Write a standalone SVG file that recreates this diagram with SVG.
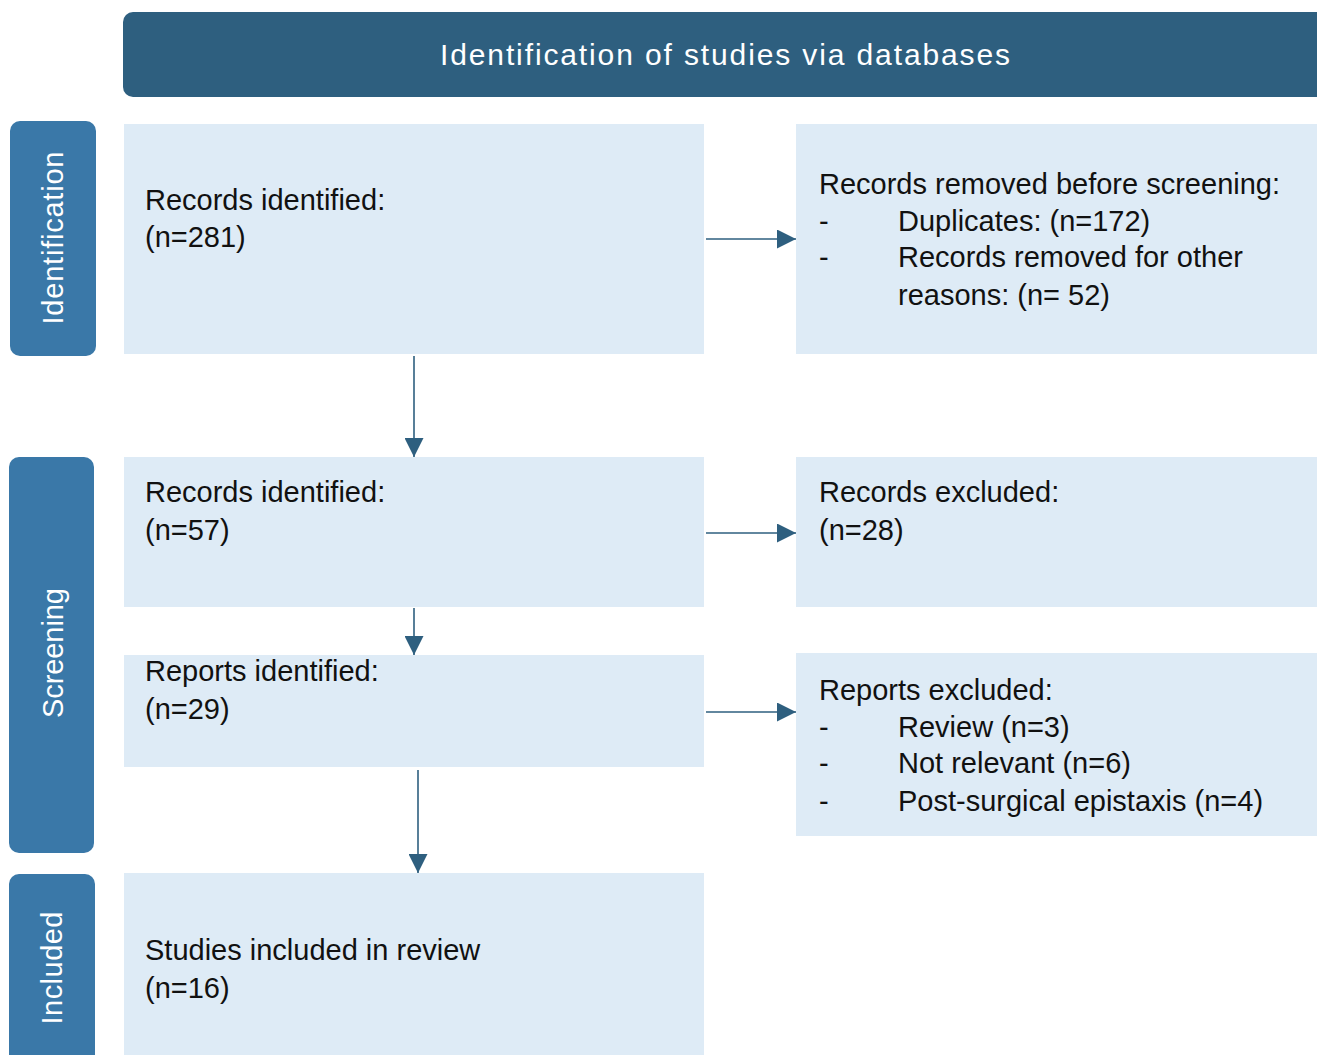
<svg xmlns="http://www.w3.org/2000/svg" width="1317" height="1055" viewBox="0 0 1317 1055">
<defs>
<style>
.box{fill:#deebf6;}
.side{fill:#3a78a8;}
.t{font-family:"Liberation Sans",Arial,sans-serif;font-size:29px;fill:#111111;}
.st{font-family:"Liberation Sans",Arial,sans-serif;font-size:29px;fill:#ffffff;text-anchor:middle;}
.hd{font-family:"Liberation Sans",Arial,sans-serif;font-size:30px;fill:#ffffff;text-anchor:middle;}
.c{stroke:#2e5f7f;stroke-width:1.6;fill:none;}
</style>
<marker id="ah" viewBox="0 0 10 10" refX="10" refY="5" markerWidth="19" markerHeight="19" markerUnits="userSpaceOnUse" orient="auto">
<path d="M0,0 L10,5 L0,10 z" fill="#2e5f7f"/>
</marker>
</defs>
<rect width="1317" height="1055" fill="#ffffff"/>
<g id="header">
<rect x="123" y="12" width="1214" height="85" rx="10" fill="#2e5f7f"/>
<text class="hd" x="725" y="65" textLength="570" lengthAdjust="spacing">Identification of studies via databases</text>
</g>
<g id="lane-identification">
<rect class="side" x="10" y="121" width="86" height="235" rx="10"/>
<text class="st" transform="translate(63,238) rotate(-90)" textLength="173" lengthAdjust="spacing">Identification</text>
</g>
<g id="lane-screening">
<rect class="side" x="9" y="457" width="85" height="396" rx="10"/>
<text class="st" transform="translate(63,653) rotate(-90)" textLength="130" lengthAdjust="spacing">Screening</text>
</g>
<g id="lane-included">
<rect class="side" x="9" y="874" width="86" height="200" rx="10"/>
<text class="st" transform="translate(62,968) rotate(-90)" textLength="113" lengthAdjust="spacing">Included</text>
</g>
<g id="n-records-identified">
<rect class="box" x="124" y="124" width="580" height="230"/>
<text class="t" x="145" y="210">Records identified:</text>
<text class="t" x="145" y="247">(n=281)</text>
</g>
<g id="n-removed">
<rect class="box" x="796" y="124" width="530" height="230"/>
<text class="t" x="819" y="194">Records removed before screening:</text>
<text class="t" x="819" y="231">-</text>
<text class="t" x="898" y="231">Duplicates: (n=172)</text>
<text class="t" x="819" y="267">-</text>
<text class="t" x="898" y="267">Records removed for other</text>
<text class="t" x="898" y="305">reasons: (n= 52)</text>
</g>
<g id="n-screened">
<rect class="box" x="124" y="457" width="580" height="150"/>
<text class="t" x="145" y="502">Records identified:</text>
<text class="t" x="145" y="540">(n=57)</text>
</g>
<g id="n-excluded">
<rect class="box" x="796" y="457" width="530" height="150"/>
<text class="t" x="819" y="502">Records excluded:</text>
<text class="t" x="819" y="540">(n=28)</text>
</g>
<g id="n-reports">
<rect class="box" x="124" y="655" width="580" height="112"/>
<text class="t" x="145" y="681">Reports identified:</text>
<text class="t" x="145" y="719">(n=29)</text>
</g>
<g id="n-reports-excluded">
<rect class="box" x="796" y="653" width="530" height="183"/>
<text class="t" x="819" y="700">Reports excluded:</text>
<text class="t" x="819" y="737">-</text>
<text class="t" x="898" y="737">Review (n=3)</text>
<text class="t" x="819" y="773">-</text>
<text class="t" x="898" y="773">Not relevant (n=6)</text>
<text class="t" x="819" y="811">-</text>
<text class="t" x="898" y="811">Post-surgical epistaxis (n=4)</text>
</g>
<g id="n-included">
<rect class="box" x="124" y="873" width="580" height="190"/>
<text class="t" x="145" y="960">Studies included in review</text>
<text class="t" x="145" y="998">(n=16)</text>
</g>
<g id="connectors">
<line class="c" x1="706" y1="239" x2="796" y2="239" marker-end="url(#ah)"/>
<line class="c" x1="706" y1="533" x2="796" y2="533" marker-end="url(#ah)"/>
<line class="c" x1="706" y1="712" x2="796" y2="712" marker-end="url(#ah)"/>
<line class="c" x1="414" y1="356" x2="414" y2="457" marker-end="url(#ah)"/>
<line class="c" x1="414" y1="608" x2="414" y2="655" marker-end="url(#ah)"/>
<line class="c" x1="418" y1="770" x2="418" y2="873" marker-end="url(#ah)"/>
</g>
</svg>
